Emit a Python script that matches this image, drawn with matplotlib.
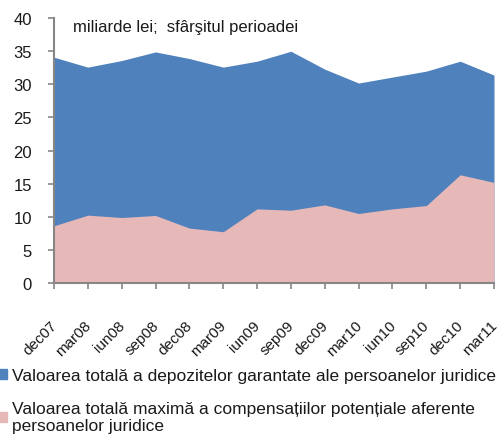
import matplotlib.pyplot as plt
from matplotlib.patches import Patch
from matplotlib.transforms import ScaledTranslation

periods = ['dec07', 'mar08', 'iun08', 'sep08', 'dec08', 'mar09', 'iun09',
           'sep09', 'dec09', 'mar10', 'iun10', 'sep10', 'dec10', 'mar11']
deposits = [34.1, 32.6, 33.6, 34.9, 33.9, 32.6, 33.5,
            35.0, 32.3, 30.2, 31.1, 32.0, 33.5, 31.4]
compensations = [8.65, 10.25, 9.9, 10.2, 8.3, 7.75, 11.2,
                 11.0, 11.8, 10.5, 11.2, 11.7, 16.35, 15.2]

label_dep = 'Valoarea totală a depozitelor garantate ale persoanelor juridice'
label_comp = 'Valoarea totală maximă a compensațiilor potențiale aferente\npersoanelor juridice'

blue = '#4F81BD'
pink = '#E6B9B8'
txt = '#1a1a1a'

plt.rcParams['font.family'] = ['Liberation Sans', 'DejaVu Sans']

fig = plt.figure(figsize=(5, 4.35), dpi=100)
ax = fig.add_axes([0.108, 0.347, 0.88, 0.609])

x = list(range(len(periods)))
ax.fill_between(x, 0, deposits, color=blue, linewidth=0)
ax.fill_between(x, 0, compensations, color=pink, linewidth=0)

ax.set_xlim(0, len(periods) - 1)
ax.set_ylim(0, 40)
ax.set_yticks(range(0, 41, 5))
ax.set_xticks(x)
ax.set_xticklabels(periods, rotation=45, ha='right', va='top')
ax.tick_params(axis='both', colors='#868686', labelcolor=txt,
               length=4, width=1.2)
ax.tick_params(axis='x', labelsize=11, pad=21)
ax.tick_params(axis='y', labelsize=12, pad=12)

# nudge rotated labels so their ends sit under the ticks
shift = ScaledTranslation(6 / 100, 0, fig.dpi_scale_trans)
for lbl in ax.get_xticklabels():
    lbl.set_transform(lbl.get_transform() + shift)

for side in ['top', 'right']:
    ax.spines[side].set_visible(False)
for side in ['left', 'bottom']:
    ax.spines[side].set_color('#868686')
    ax.spines[side].set_linewidth(1.5)

ax.text(0.56, 38.8, 'miliarde lei;  sfârşitul perioadei', fontsize=12,
        color=txt, va='center')

handles = [Patch(color=blue, label=label_dep), Patch(color=pink, label=label_comp)]
leg = fig.legend(handles=handles, loc='upper left', bbox_to_anchor=(-0.003, 0.151),
                 frameon=False, fontsize=12.5, handlelength=0.5, handleheight=0.5,
                 handletextpad=0.25, labelspacing=1.0, borderpad=0, borderaxespad=0,
                 labelcolor=txt)
for t in leg.get_texts():
    t.set_linespacing(1.2)

fig.savefig('out.png', dpi=100)
